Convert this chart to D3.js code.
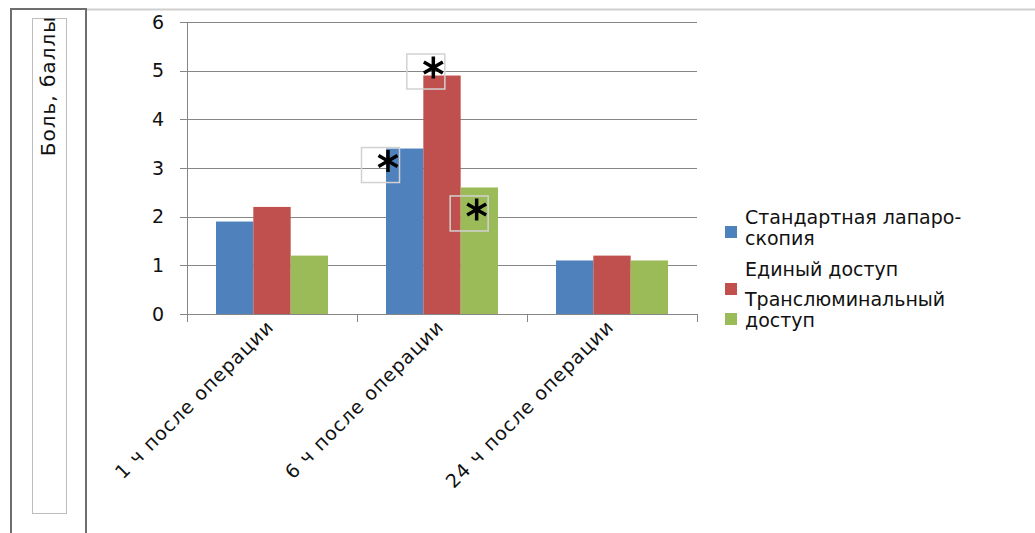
<!DOCTYPE html>
<html>
<head>
<meta charset="utf-8">
<script src="https://cdn.jsdelivr.net/npm/d3@7"></script>
<style>
  body { margin: 0; background: #fff; }
  svg text { font-family: "DejaVu Sans", "Open Sans", sans-serif; fill: #111; }
</style>
</head>
<body>
<svg id="chart" width="1035" height="533"></svg>
<script>
// chart data
const categories = ['1 ч после операции', '6 ч после операции', '24 ч после операции'];
const seriesNames = ['Стандартная лапаро-\nскопия', 'Единый доступ', 'Транслюминальный\nдоступ'];
const standard = [1.9, 3.4, 1.1];
const single = [2.2, 4.9, 1.2];
const translum = [1.2, 2.6, 1.1];
const yTicks = [0, 1, 2, 3, 4, 5, 6];
// significance marks: [category index, series index]
const marks = [[1, 0], [1, 1], [1, 2]];

const colors = ['#4f81bd', '#c0504d', '#9bbb59'];
const series = [standard, single, translum];
// where each mark box sits relative to its bar's top-left corner
const markOffset = [[-25, -1.5], [-17, -22], [-11, 8]];

const svg = d3.select('#chart');

// frame pieces
svg.append('line').attr('x1', 86).attr('x2', 1035).attr('y1', 9.5).attr('y2', 9.5)
    .attr('stroke', '#cfcfcf').attr('stroke-width', 2);
svg.append('rect').attr('x', 11).attr('y', 9).attr('width', 75).attr('height', 540)
    .attr('fill', 'none').attr('stroke', '#6e6e6e').attr('stroke-width', 2);
svg.append('rect').attr('x', 32.5).attr('y', 18.5).attr('width', 34).attr('height', 495)
    .attr('fill', 'none').attr('stroke', '#bdbdbd').attr('stroke-width', 1);

svg.append('text')
    .attr('transform', 'translate(55,16) rotate(-90)')
    .attr('text-anchor', 'end')
    .attr('font-size', 20)
    .attr('letter-spacing', 1)
    .text('Боль, баллы');

const x0 = d3.scaleBand().domain(categories).range([187, 697]);
const x1 = d3.scaleBand().domain(d3.range(3)).range([29, 141]);
const y = d3.scaleLinear().domain([0, 6]).range([314, 22]);

// gridlines
svg.append('g')
    .selectAll('line')
    .data(yTicks)
    .join('line')
    .attr('x1', 180).attr('x2', 697)
    .attr('y1', d => Math.round(y(d)) + 0.5).attr('y2', d => Math.round(y(d)) + 0.5)
    .attr('stroke', '#868686');

svg.append('g')
    .selectAll('text')
    .data(yTicks)
    .join('text')
    .attr('x', 164)
    .attr('y', d => y(d))
    .attr('dy', '0.35em')
    .attr('text-anchor', 'end')
    .attr('font-size', 19)
    .text(d => d);

// bars
const groups = svg.append('g')
    .selectAll('g')
    .data(categories)
    .join('g')
    .attr('transform', d => `translate(${x0(d)},0)`);

groups.selectAll('rect')
    .data((d, i) => series.map((s, j) => ({ j, v: s[i] })))
    .join('rect')
    .attr('x', d => x1(d.j))
    .attr('width', x1.bandwidth())
    .attr('y', d => y(d.v))
    .attr('height', d => y(0) - y(d.v))
    .attr('fill', d => colors[d.j]);

// axis lines
svg.append('line').attr('x1', 187.5).attr('x2', 187.5).attr('y1', 22).attr('y2', 322)
    .attr('stroke', '#868686');
svg.append('g')
    .selectAll('line')
    .data(categories.concat(['end']))
    .join('line')
    .attr('x1', (d, i) => 187.5 + i * x0.bandwidth())
    .attr('x2', (d, i) => 187.5 + i * x0.bandwidth())
    .attr('y1', 314).attr('y2', 322)
    .attr('stroke', '#868686');

// category labels
svg.append('g')
    .selectAll('text')
    .data(categories)
    .join('text')
    .attr('transform', d => `translate(${x0(d) + x0.bandwidth() / 2 + 3},328) rotate(-45)`)
    .attr('text-anchor', 'end')
    .attr('font-size', 19)
    .attr('letter-spacing', 1)
    .text(d => d);

// significance marks
const m = svg.append('g')
    .selectAll('g')
    .data(marks)
    .join('g')
    .attr('transform', (d, k) => {
        const bx = x0(categories[d[0]]) + x1(d[1]);
        const by = y(series[d[1]][d[0]]);
        return `translate(${bx + markOffset[k][0]},${by + markOffset[k][1]})`;
    });
m.append('rect')
    .attr('x', 0.5).attr('y', 0.5).attr('width', 38).attr('height', 35)
    .attr('fill', 'none')
    .attr('stroke', '#d2d2d2')
    .attr('stroke-width', 1.5);
m.append('path')
    .attr('transform', 'translate(27,14)')
    .attr('d', d3.symbol(d3.symbolAsterisk, 340))
    .attr('fill', 'none')
    .attr('stroke', '#000')
    .attr('stroke-width', 3.5);

// legend
const legend = svg.append('g')
    .selectAll('g')
    .data(seriesNames)
    .join('g');
const legY = [232, 289, 319];
const textY = [224, 276, 306];
legend.append('rect')
    .attr('x', 725).attr('y', (d, i) => legY[i] - 6)
    .attr('width', 12).attr('height', 12)
    .attr('fill', (d, i) => colors[i]);
legend.append('text')
    .attr('font-size', 19)
    .selectAll('tspan')
    .data((d, i) => d.split('\n').map(t => ({ t, i })))
    .join('tspan')
    .attr('x', 745)
    .attr('y', (d, k) => textY[d.i] + k * 21)
    .text(d => d.t);
</script>
</body>
</html>
